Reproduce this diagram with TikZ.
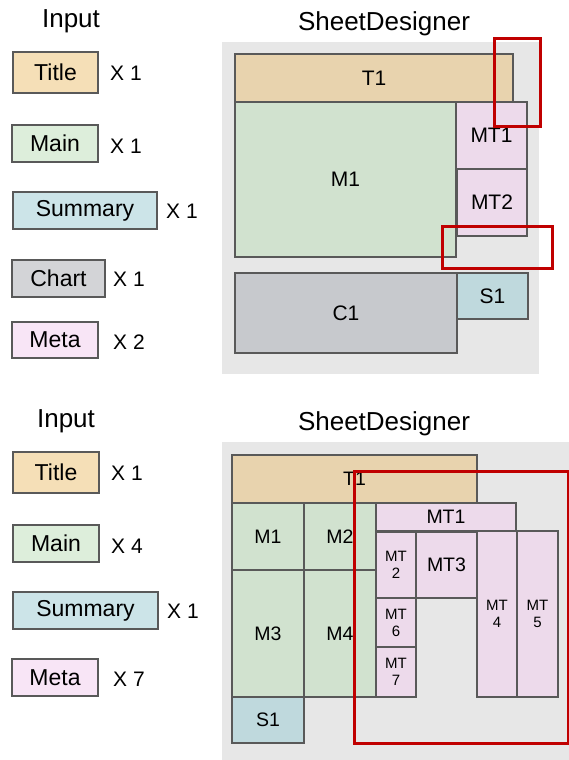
\documentclass[tikz,border=0pt]{standalone}
\usepackage{fontspec}
\setmainfont{Liberation Sans}
\definecolor{titleIn}{HTML}{F5DFB7}
\definecolor{titleD}{HTML}{E8D3AE}
\definecolor{mainIn}{HTML}{DDEEDB}
\definecolor{mainD}{HTML}{D1E2CF}
\definecolor{sumIn}{HTML}{CCE4E8}
\definecolor{sumD}{HTML}{BFD9DD}
\definecolor{chartIn}{HTML}{D3D4D7}
\definecolor{chartD}{HTML}{C7C9CD}
\definecolor{metaIn}{HTML}{F8E5F6}
\definecolor{metaD}{HTML}{EDDAEB}
\definecolor{bgGray}{HTML}{E7E7E7}
\definecolor{edgeGray}{HTML}{595959}
\definecolor{hiRed}{HTML}{C00000}
% \blk{style}{name}{x1}{y1}{x2}{y2}{text}
\newcommand\blk[7]{%
  \pgfmathsetmacro\bw{#5-#3}\pgfmathsetmacro\bh{#6-#4}%
  \pgfmathsetmacro\bx{(#3+#5)/2}\pgfmathsetmacro\by{(#4+#6)/2}%
  \node[#1, minimum width=\bw pt, minimum height=\bh pt] (#2) at (\bx,\by) {#7};}
\begin{document}
\begin{tikzpicture}[x=1pt,y=-1pt,
  blk/.style={draw=edgeGray, line width=1.5pt, inner sep=0pt, outer sep=0pt, align=center},
  inbox/.style={blk, font=\fontsize{23}{25}\selectfont},
  lblA/.style={blk, font=\fontsize{21}{23}\selectfont},
  lblB/.style={blk, font=\fontsize{19.5}{21}\selectfont},
  lblC/.style={blk, font=\fontsize{15}{17}\selectfont},
  cnt/.style={anchor=west, inner sep=0pt, font=\fontsize{21}{23}\selectfont},
  head/.style={inner sep=0pt, font=\fontsize{26}{28}\selectfont},
  bgpanel/.style={fill=bgGray, draw=none, inner sep=0pt},
  hilite/.style={draw=hiRed, line width=3pt, fill=none, inner sep=0pt},
]
\useasboundingbox (0,0) rectangle (569,760);

% ---------------- Top part ----------------
\node[head] (inA) at (71,21) {Input};
\blk{inbox, fill=titleIn}{tA}{13}{52}{98}{93}{Title}
\blk{inbox, fill=mainIn}{mA}{12}{125}{98}{162}{Main}
\blk{inbox, fill=sumIn}{sA}{13}{192}{157}{229}{Summary}
\blk{inbox, fill=chartIn}{cA}{12}{260}{105}{297}{Chart}
\blk{inbox, fill=metaIn}{meA}{12}{322}{98}{358}{Meta}
\node[cnt] (xtA) at (110,73) {X 1};
\node[cnt] (xmA) at (110,146) {X 1};
\node[cnt] (xsA) at (166,211) {X 1};
\node[cnt] (xcA) at (113,279) {X 1};
\node[cnt] (xmeA) at (113,342) {X 2};

\node[head] (sdA) at (384,24) {SheetDesigner};
\blk{bgpanel}{bgA}{222}{42}{539}{374}{}
\blk{lblA, fill=titleD}{T1A}{235}{54}{513}{102}{T1}
\blk{lblA, fill=mainD}{M1A}{235}{102}{456}{257}{M1}
\blk{lblA, fill=metaD}{MT1A}{456}{102}{527}{169}{MT1}
\blk{lblA, fill=metaD}{MT2A}{457}{169}{527}{236}{MT2}
\blk{lblA, fill=chartD}{C1A}{235}{273}{457}{353}{C1}
\blk{lblA, fill=sumD}{S1A}{457}{273}{528}{319}{S1}
\blk{hilite}{r1A}{494}{39}{540}{126}{}
\blk{hilite}{r2A}{442}{226}{552}{268}{}

% ---------------- Bottom part ----------------
\node[head] (inB) at (66,421) {Input};
\blk{inbox, fill=titleIn}{tB}{13}{452}{99}{493}{Title}
\blk{inbox, fill=mainIn}{mB}{13}{525}{99}{562}{Main}
\blk{inbox, fill=sumIn}{sB}{13}{592}{158}{629}{Summary}
\blk{inbox, fill=metaIn}{meB}{12}{659}{98}{696}{Meta}
\node[cnt] (xtB) at (111,473) {X 1};
\node[cnt] (xmB) at (111,546) {X 4};
\node[cnt] (xsB) at (167,611) {X 1};
\node[cnt] (xmeB) at (113,679) {X 7};

\node[head] (sdB) at (384,424) {SheetDesigner};
\blk{bgpanel}{bgB}{222}{442}{569}{760}{}
\blk{lblB, fill=titleD}{T1B}{232}{455}{477}{503}{T1}
\blk{lblB, fill=mainD}{M1B}{232}{503}{304}{570}{M1}
\blk{lblB, fill=mainD}{M2B}{304}{503}{376}{570}{M2}
\blk{lblB, fill=mainD}{M3B}{232}{570}{304}{697}{M3}
\blk{lblB, fill=mainD}{M4B}{304}{570}{376}{697}{M4}
\blk{lblB, fill=sumD}{S1B}{232}{697}{304}{743}{S1}
\blk{lblB, fill=metaD}{MT1B}{376}{503}{516}{531}{MT1}
\blk{lblC, fill=metaD}{MT2B}{376}{532}{416}{598}{MT\\2}
\blk{lblB, fill=metaD}{MT3B}{416}{532}{477}{598}{MT3}
\blk{lblC, fill=metaD}{MT4B}{477}{531}{517}{697}{MT\\4}
\blk{lblC, fill=metaD}{MT5B}{517}{531}{558}{697}{MT\\5}
\blk{lblC, fill=metaD}{MT6B}{376}{598}{416}{647}{MT\\6}
\blk{lblC, fill=metaD}{MT7B}{376}{647}{416}{697}{MT\\7}
\blk{hilite}{rB}{354}{471}{568}{743}{}
\end{tikzpicture}
\end{document}
